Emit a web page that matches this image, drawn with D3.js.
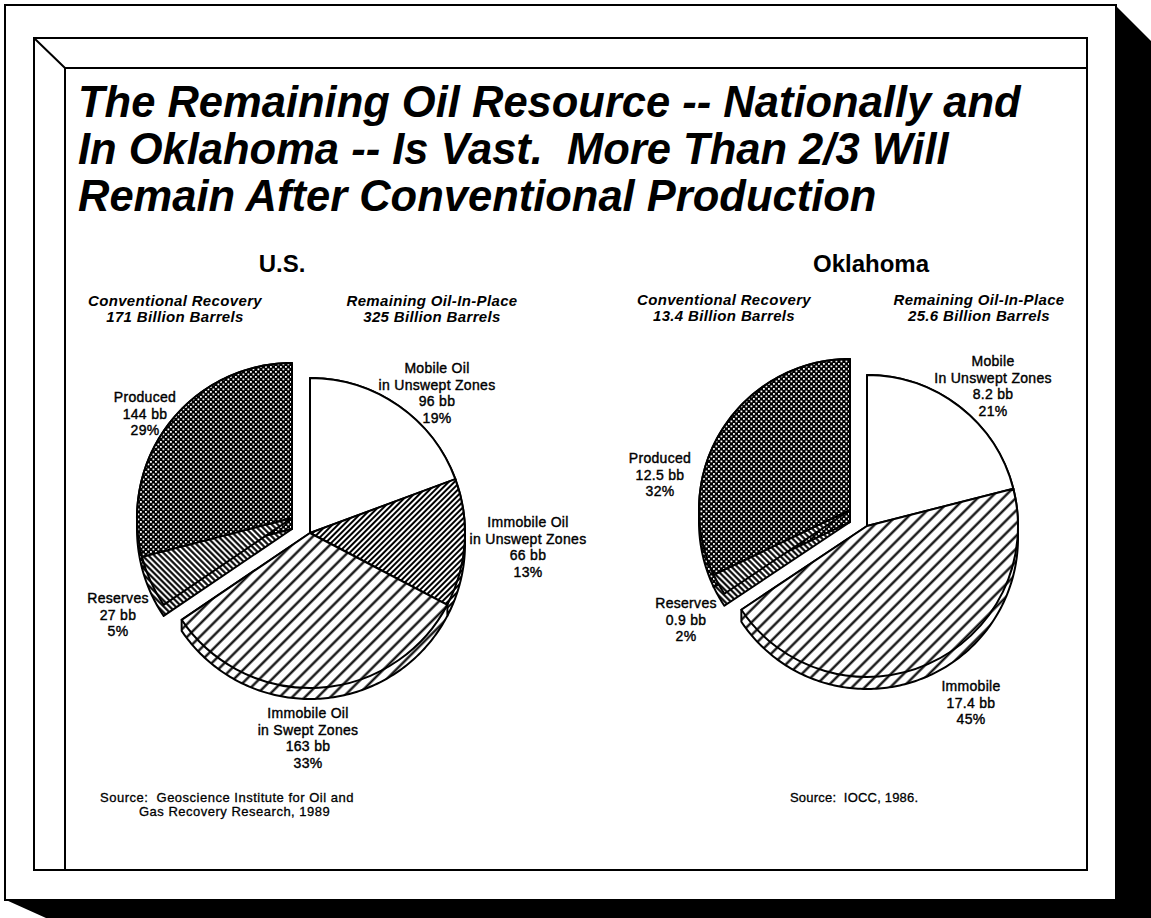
<!DOCTYPE html>
<html>
<head>
<meta charset="utf-8">
<script src="https://cdn.jsdelivr.net/npm/d3@7"></script>
<style>
body{margin:0;background:#fff;}
text{font-family:"Liberation Sans",Arial,Helvetica,sans-serif;fill:#000;white-space:pre;}
</style>
</head>
<body>
<div id="chart"></div>
<script>
// ---- data ----
var titleLines=["The Remaining Oil Resource -- Nationally and","In Oklahoma -- Is Vast.  More Than 2/3 Will","Remain After Conventional Production"];

var usCategories=[["Mobile Oil","in Unswept Zones"],["Immobile Oil","in Unswept Zones"],["Immobile Oil","in Swept Zones"],["Reserves"],["Produced"]];
var usValues=[96,66,163,27,144];
var usPercents=[19,13,33,5,29];
var usGroups=["remaining","remaining","remaining","conventional","conventional"];
var usTotals=[["Conventional Recovery","171 Billion Barrels"],["Remaining Oil-In-Place","325 Billion Barrels"]];

var okCategories=[["Mobile","In Unswept Zones"],["Immobile"],["Reserves"],["Produced"]];
var okValues=[8.2,17.4,0.9,12.5];
var okPercents=[21,45,2,32];
var okGroups=["remaining","remaining","conventional","conventional"];
var okTotals=[["Conventional Recovery","13.4 Billion Barrels"],["Remaining Oil-In-Place","25.6 Billion Barrels"]];

var sources=[["Source:  Geoscience Institute for Oil and","Gas Recovery Research, 1989"],["Source:  IOCC, 1986."]];

// ---- page ----
var W=1151,H=918;
var svg=d3.select("#chart").append("svg").attr("width",W).attr("height",H);

// frame: shadow, card, bevelled panel
svg.append("polygon")
  .attr("points",[[1116,6],[1151,41],[1151,918],[46,918],[6,900],[1116,900]].join(" "))
  .attr("fill","#000");
svg.append("rect").attr("x",5).attr("y",5).attr("width",1111).attr("height",895)
  .attr("fill","#fff").attr("stroke","#000").attr("stroke-width",2);
svg.append("rect").attr("x",34).attr("y",38).attr("width",1053).attr("height",832)
  .attr("fill","none").attr("stroke","#000").attr("stroke-width",2);
svg.append("path").attr("d","M65,870V68H1087M34,38L65,68")
  .attr("fill","none").attr("stroke","#000").attr("stroke-width",2);

// patterns
var defs=svg.append("defs");
function hatch(id,gap,width,angle){
  var p=defs.append("pattern").attr("id",id).attr("patternUnits","userSpaceOnUse")
    .attr("width",gap).attr("height",gap).attr("patternTransform","rotate("+angle+")");
  p.append("rect").attr("width",gap).attr("height",gap).attr("fill","#fff");
  p.append("line").attr("x1",gap/2).attr("y1",-1).attr("x2",gap/2).attr("y2",gap+1)
    .attr("stroke","#000").attr("stroke-width",width);
}
hatch("hDense",4,2,45);
hatch("hWide",9,2.2,45);
hatch("hBack",4.2,2.1,-45);
var dp=defs.append("pattern").attr("id","dots").attr("patternUnits","userSpaceOnUse")
  .attr("width",5).attr("height",5);
dp.append("rect").attr("width",5).attr("height",5).attr("fill","#000");
dp.append("rect").attr("x",0.5).attr("y",0.5).attr("width",1.8).attr("height",1.8).attr("fill","#fff");
dp.append("rect").attr("x",3).attr("y",3).attr("width",1.8).attr("height",1.8).attr("fill","#fff");

// title
svg.append("text").attr("x",78).attr("y",117)
  .style("font-size","43.5px").style("font-weight","bold").style("font-style","italic")
  .selectAll("tspan").data(titleLines).enter().append("tspan")
  .attr("x",78).attr("dy",function(d,i){ return i==0?0:47; })
  .text(function(d){ return d; });

function drawPie(o){
  var g=svg.append("g").attr("transform","translate("+o.cx+","+o.cy+")");
  var pie=d3.pie().sort(null).value(function(d){ return d; });
  var arcs=pie(o.values);
  var arc=d3.arc().innerRadius(0).outerRadius(o.r);

  function offset(i){ return o.groups[i]=="conventional"?o.explode:[0,0]; }

  // side walls: hull of the slice and the slice pushed down by depth
  function wall(d){
    var pts=[[0,0]],n=Math.max(2,Math.ceil((d.endAngle-d.startAngle)*180/Math.PI));
    for(var k=0;k<=n;k++){
      var a=d.startAngle+(d.endAngle-d.startAngle)*k/n;
      pts.push([o.r*Math.sin(a),-o.r*Math.cos(a)]);
    }
    var all=pts.concat(pts.map(function(p){ return [p[0],p[1]+o.depth]; }));
    return "M"+d3.polygonHull(all).join("L")+"Z";
  }

  g.selectAll(".wall").data(arcs).enter().append("path")
    .attr("class","wall")
    .attr("transform",function(d,i){ return "translate("+offset(i)+")"; })
    .attr("d",wall)
    .attr("fill",function(d,i){ return o.fills[i]; })
    .attr("stroke","#000").attr("stroke-width",2).attr("stroke-linejoin","round");

  g.selectAll(".top").data(arcs).enter().append("path")
    .attr("class","top")
    .attr("transform",function(d,i){ return "translate("+offset(i)+")"; })
    .attr("d",arc)
    .attr("fill",function(d,i){ return o.fills[i]; })
    .attr("stroke","#000").attr("stroke-width",2).attr("stroke-linejoin","round");

  // slice labels
  var lab=g.selectAll(".lab").data(arcs).enter().append("text")
    .attr("class","lab")
    .attr("text-anchor","middle")
    .style("font-size","14px").style("letter-spacing","0.3px")
    .attr("stroke","#000").attr("stroke-width",0.4)
    .attr("transform",function(d,i){ return "translate("+o.labelPos[i]+")"; });
  lab.selectAll("tspan")
    .data(function(d,i){ return o.categories[i].concat([o.values[i]+" bb",o.percents[i]+"%"]); })
    .enter().append("tspan")
    .attr("x",0).attr("dy",function(d,j){ return j==0?0:16.5; })
    .text(function(d){ return d; });

  // heading
  svg.append("text").attr("x",o.head[0]).attr("y",272).attr("text-anchor","middle")
    .style("font-size","24px").style("font-weight","bold").text(o.name);

  // totals above the pie
  o.totals.forEach(function(t,i){
    svg.append("text").attr("x",o.totalX[i]).attr("y",o.totalY).attr("text-anchor","middle")
      .style("font-size","15px").style("font-weight","bold").style("font-style","italic")
      .style("letter-spacing","0.35px")
      .selectAll("tspan").data(t).enter().append("tspan")
      .attr("x",o.totalX[i]).attr("dy",function(d,j){ return j==0?0:16; })
      .text(function(d){ return d; });
  });
}

drawPie({
  name:"U.S.",head:[282],cx:310,cy:533,r:155,depth:11,explode:[-18,-15],
  values:usValues,percents:usPercents,categories:usCategories,groups:usGroups,
  fills:["#fff","url(#hDense)","url(#hWide)","url(#hBack)","url(#dots)"],
  labelPos:[[127,-160],[218,-6],[-2,185],[-192,70],[-165,-131]],
  totals:usTotals,totalX:[175,432],totalY:306
});

drawPie({
  name:"Oklahoma",head:[871],cx:867,cy:526,r:151,depth:12,explode:[-17,-16],
  values:okValues,percents:okPercents,categories:okCategories,groups:okGroups,
  fills:["#fff","url(#hWide)","url(#hBack)","url(#dots)"],
  labelPos:[[126,-160],[104,165],[-181,82],[-207,-63]],
  totals:okTotals,totalX:[724,979],totalY:305
});

// sources
svg.append("text").style("font-size","13px").style("letter-spacing","0.5px")
  .attr("stroke","#000").attr("stroke-width",0.3)
  .selectAll("tspan").data(sources[0]).enter().append("tspan")
  .attr("x",function(d,i){ return i==0?100:139; })
  .attr("y",function(d,i){ return 802+i*14; })
  .text(function(d){ return d; });
svg.append("text").style("font-size","13px").style("letter-spacing","0.2px")
  .attr("stroke","#000").attr("stroke-width",0.3)
  .attr("x",790).attr("y",802).text(sources[1][0]);
</script>
</body>
</html>
